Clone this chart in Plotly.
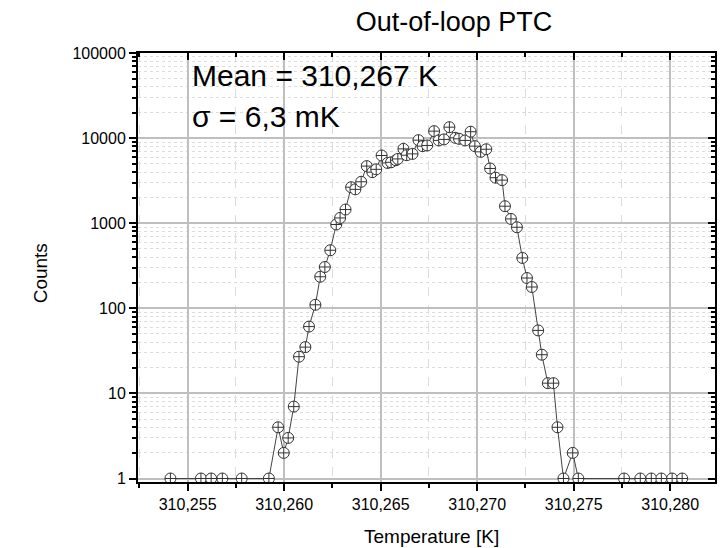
import plotly.graph_objects as go

# ---- data ----
temperature_K = [
    310.25411, 310.25569, 310.25622, 310.25680, 310.25780, 310.25921,
    310.25969, 310.25998, 310.26021, 310.26050, 310.26077, 310.26110,
    310.26129, 310.26162, 310.26187, 310.26211, 310.26239, 310.26270,
    310.26290, 310.26318, 310.26347, 310.26369, 310.26399, 310.26428,
    310.26457, 310.26477, 310.26505, 310.26536, 310.26554, 310.26579,
    310.26589, 310.26618, 310.26635, 310.26665, 310.26696, 310.26717,
    310.26741, 310.26777, 310.26801, 310.26828, 310.26856, 310.26887,
    310.26906, 310.26938, 310.26966, 310.26988, 310.27018, 310.27047,
    310.27067, 310.27095, 310.27129, 310.27144, 310.27175, 310.27206,
    310.27234, 310.27258, 310.27283, 310.27316, 310.27335, 310.27366,
    310.27395, 310.27416, 310.27447, 310.27495, 310.27524, 310.27761,
    310.27845, 310.27902, 310.27954, 310.28010, 310.28062,
]
counts = [
    1, 1, 1, 1, 1, 1,
    4, 2, 3, 7, 27, 35,
    61, 110, 235, 306, 481, 966,
    1154, 1449, 2650, 2500, 3070, 4690,
    3980, 4300, 6250, 5110, 5200, 5500,
    5700, 7480, 6300, 6530, 9470, 8050,
    8200, 12080, 9400, 9660, 13460, 10080,
    9820, 9400, 11900, 8050, 6900, 7400,
    4400, 3430, 3210, 1585, 1124, 897,
    391, 227, 178, 55, 28.5, 13.2,
    13.2, 4, 1, 2, 1, 1,
    1, 1, 1, 1, 1,
]

x_tick_vals = [310.255, 310.260, 310.265, 310.270, 310.275, 310.280]
x_tick_text = ["310,255", "310,260", "310,265", "310,270", "310,275", "310,280"]
y_tick_vals = [1, 10, 100, 1000, 10000, 100000]
y_tick_text = ["1", "10", "100", "1000", "10000", "100000"]

title_text = "Out-of-loop PTC"
x_title = "Temperature [K]"
y_title = "Counts"
stats_lines = ["Mean = 310,267 K", "σ = 6,3 mK"]

x_range = [310.25243, 310.28232]
y_range = [-0.041, 5.0005]

FONT = "Liberation Sans, Arial, sans-serif"

fig = go.Figure()
fig.add_trace(go.Scatter(
    x=temperature_K, y=counts, mode="lines+markers",
    line=dict(color="#444444", width=1),
    marker=dict(symbol="circle-cross", size=11, color="white",
                line=dict(color="#333333", width=1)),
    showlegend=False, hoverinfo="skip",
))
# invisible trace to attach tick-only axes (top / right)
fig.add_trace(go.Scatter(x=[None], y=[None], xaxis="x2", yaxis="y2",
                         showlegend=False, hoverinfo="skip"))

major_grid = "#bfbfbf"
minor_grid = "#dcdcdc"

fig.update_layout(
    width=723, height=548,
    margin=dict(l=138, r=6, t=53, b=66),
    paper_bgcolor="white", plot_bgcolor="white",
    font=dict(family=FONT, size=16, color="black"),
    title=dict(text=title_text, x=454 / 723, xanchor="center",
               y=1 - 22 / 548, yanchor="middle", yref="container",
               font=dict(family=FONT, size=27, color="black")),
    xaxis=dict(
        range=x_range, tickmode="array", tickvals=x_tick_vals, ticktext=x_tick_text,
        ticks="outside", ticklen=7, tickwidth=1.5, tickcolor="black",
        showline=True, linecolor="black", linewidth=2, mirror=True,
        showgrid=True, gridcolor=major_grid, gridwidth=1.5,
        minor=dict(tick0=310.2525, dtick=0.0025, ticks="outside", ticklen=4,
                   tickwidth=1.5, tickcolor="black", showgrid=True,
                   gridcolor=minor_grid, griddash="dash", gridwidth=1),
        zeroline=False, tickfont=dict(size=16),
    ),
    yaxis=dict(
        type="log", range=y_range, tickmode="array", tickvals=y_tick_vals,
        ticktext=y_tick_text,
        ticks="outside", ticklen=7, tickwidth=1.5, tickcolor="black",
        showline=True, linecolor="black", linewidth=2, mirror=True,
        showgrid=True, gridcolor=major_grid, gridwidth=1.5,
        minor=dict(dtick="D1", ticks="outside", ticklen=4, tickwidth=1.5,
                   tickcolor="black", showgrid=True, gridcolor=minor_grid,
                   griddash="dot", gridwidth=1),
        zeroline=False, tickfont=dict(size=16),
    ),
    xaxis2=dict(
        overlaying="x", side="top", range=x_range, anchor="y2",
        tickmode="array", tickvals=x_tick_vals, showticklabels=False,
        ticks="inside", ticklen=7, tickwidth=1.5, tickcolor="black",
        showline=False, showgrid=False,
        minor=dict(tick0=310.2525, dtick=0.0025, ticks="inside", ticklen=4,
                   tickwidth=1.5, tickcolor="black", showgrid=False),
        zeroline=False,
    ),
    yaxis2=dict(
        overlaying="y", side="right", type="log", range=y_range, anchor="x2",
        tickmode="array", tickvals=y_tick_vals, showticklabels=False,
        ticks="inside", ticklen=7, tickwidth=1.5, tickcolor="black",
        showline=False, showgrid=False,
        minor=dict(dtick="D1", ticks="inside", ticklen=4, tickwidth=1.5,
                   tickcolor="black", showgrid=False),
        zeroline=False,
    ),
)

pw, ph = 723 - 138 - 6, 548 - 53 - 66
def px(xp):
    return (xp - 138) / pw
def py(yp):
    return (548 - 66 - yp) / ph

fig.add_annotation(text=stats_lines[0], xref="paper", yref="paper",
                   x=px(190), y=py(76), xanchor="left", yanchor="middle",
                   showarrow=False, font=dict(family=FONT, size=30, color="black"))
fig.add_annotation(text=stats_lines[1], xref="paper", yref="paper",
                   x=px(190), y=py(116), xanchor="left", yanchor="middle",
                   showarrow=False, font=dict(family=FONT, size=30, color="black"))
fig.add_annotation(text=x_title, xref="paper", yref="paper",
                   x=px(433), y=py(536), xanchor="center", yanchor="middle",
                   showarrow=False, font=dict(family=FONT, size=19, color="black"))
fig.add_annotation(text=y_title, xref="paper", yref="paper",
                   x=px(40), y=py(273), xanchor="center", yanchor="middle",
                   textangle=-90, showarrow=False,
                   font=dict(family=FONT, size=19, color="black"))

fig.write_html("out.html")
